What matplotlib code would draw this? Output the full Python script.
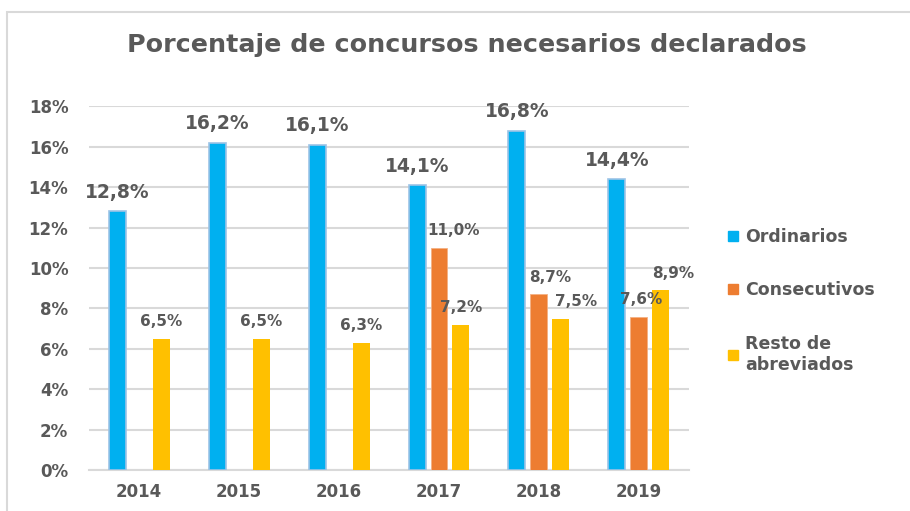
import numpy as np
import matplotlib
matplotlib.use("Agg")
import matplotlib.pyplot as plt
from matplotlib.patches import Rectangle
from matplotlib.lines import Line2D

years = ["2014", "2015", "2016", "2017", "2018", "2019"]
ordinarios = [12.8, 16.2, 16.1, 14.1, 16.8, 14.4]
consecutivos = [np.nan, np.nan, np.nan, 11.0, 8.7, 7.6]
resto = [6.5, 6.5, 6.3, 7.2, 7.5, 8.9]
series_names = ["Ordinarios", "Consecutivos", "Resto de\nabreviados"]

c_blue = "#00B0F0"
c_orange = "#ED7D31"
c_yellow = "#FFC000"
txt = "#595959"
grid_c = "#D9D9D9"

plt.rcParams["font.family"] = "DejaVu Sans"

fig = plt.figure(figsize=(9.1, 5.11), dpi=100)
ax = fig.add_axes([0.098, 0.080, 0.659, 0.712])

x = np.arange(len(years))
w = 0.17
off = 0.22

ax.bar(x - off, ordinarios, w, color=c_blue, edgecolor="#9DC3E6", linewidth=1.2, zorder=3)
ax.bar(x, consecutivos, w, color=c_orange, edgecolor="#F4B183", linewidth=0.6, zorder=3)
ax.bar(x + off, resto, w, color=c_yellow, zorder=3)

# data labels (small horizontal nudges as in the original)
for i, v in enumerate(ordinarios):
    ax.annotate(f"{v:.1f}%".replace(".", ","), (x[i] - off, v), xytext=(0, 19),
                textcoords="offset pixels", ha="center", va="center",
                fontsize=13.5, fontweight="bold", color=txt)

cons_dx = [0, 0, 0, 15, 11, 2]
for i, v in enumerate(consecutivos):
    if np.isnan(v):
        continue
    ax.annotate(f"{v:.1f}%".replace(".", ","), (x[i], v), xytext=(cons_dx[i], 17),
                textcoords="offset pixels", ha="center", va="center",
                fontsize=11, fontweight="bold", color=txt)

resto_dx = [0, 0, 0, 0, 15, 12]
for i, v in enumerate(resto):
    ax.annotate(f"{v:.1f}%".replace(".", ","), (x[i] + off, v), xytext=(resto_dx[i], 17),
                textcoords="offset pixels", ha="center", va="center",
                fontsize=11, fontweight="bold", color=txt)

ax.set_xlim(-0.5, len(years) - 0.5)
ax.set_ylim(0, 18)
ax.set_yticks(np.arange(0, 19, 2))
ax.set_yticklabels([f"{t}%" for t in range(0, 19, 2)])
ax.set_xticks(x)
ax.set_xticklabels(years)
ax.tick_params(axis="both", length=0, labelsize=12, labelcolor=txt)
ax.tick_params(axis="y", pad=15)
ax.tick_params(axis="x", pad=9)
for lab in ax.get_xticklabels() + ax.get_yticklabels():
    lab.set_fontweight("bold")

ax.yaxis.grid(True, color=grid_c, linewidth=1.5, zorder=0)
for s in ["top", "right", "left"]:
    ax.spines[s].set_visible(False)
ax.spines["bottom"].set_color(grid_c)
ax.spines["bottom"].set_linewidth(1.5)

fig.text(0.513, 0.912, "Porcentaje de concursos necesarios declarados",
         ha="center", va="center", fontsize=18.3, fontweight="bold", color=txt)

handles = [Line2D([], [], marker="s", linestyle="", markersize=7, color=c)
           for c in [c_blue, c_orange, c_yellow]]
fig.legend(handles, series_names, loc="upper left", bbox_to_anchor=(0.780, 0.585),
           frameon=False, labelspacing=2.05, handletextpad=0.25,
           handlelength=0.9, labelcolor=txt, prop={"weight": "bold", "size": 12.5})

fig.patches.append(Rectangle((7 / 910, -0.05), 1.2, 1 - 12 / 511 + 0.05,
                             transform=fig.transFigure, fill=False,
                             edgecolor=grid_c, linewidth=1.5))

fig.savefig("out.png", dpi=100)
